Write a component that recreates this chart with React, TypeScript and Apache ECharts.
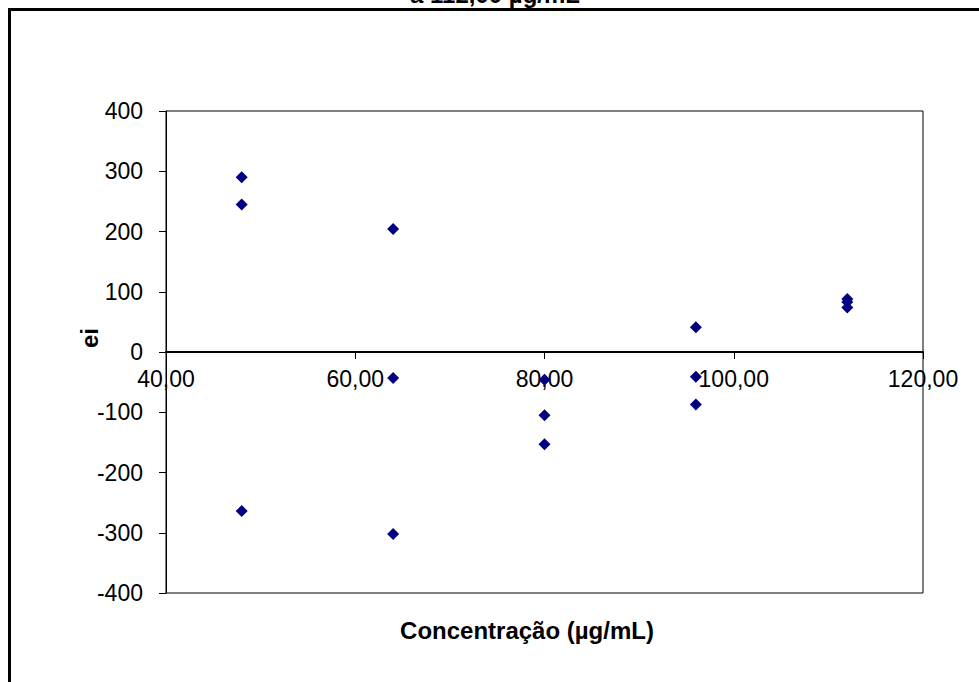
import React, { useEffect, useRef } from "react";
import * as echarts from "echarts";

const concentrations = [48, 48, 48, 64, 64, 64, 80, 80, 80, 96, 96, 96, 112, 112, 112];
const residuals = [290, 245, -264, 204, -43, -302, -46, -105, -153, 41, -41, -87, 88, 83, 74];

const titleText = "a 112,00 µg/mL";
const xTitle = "Concentração (µg/mL)";
const yTitle = "ei";

const FONT = "'Liberation Sans', Arial, sans-serif";

export default function App() {
  const ref = useRef<HTMLDivElement>(null);
  useEffect(() => {
    if (!ref.current) return;
    const chart = echarts.init(ref.current, null, { renderer: "svg" });
    const data = concentrations.map((c, i) => [c, residuals[i]]);
    chart.setOption({
      animation: false,
      backgroundColor: "#ffffff",
      textStyle: { fontFamily: FONT },
      grid: {
        left: 166,
        top: 111,
        right: 56,
        bottom: 89,
        show: true,
        borderColor: "#000",
        borderWidth: 1,
        backgroundColor: "transparent",
      },
      xAxis: {
        type: "value",
        position: "bottom",
        offset: -241,
        min: 40,
        max: 120,
        interval: 20,
        axisLine: { onZero: false, lineStyle: { color: "#000", width: 2 } },
        axisTick: { show: true, length: 7, lineStyle: { color: "#000", width: 1 } },
        axisLabel: {
          color: "#000",
          fontSize: 23,
          fontFamily: FONT,
          margin: 15,
          formatter: (v: number) => v.toFixed(2).replace(".", ","),
        },
        splitLine: { show: false },
      },
      yAxis: {
        type: "value",
        min: -400,
        max: 400,
        interval: 100,
        axisLine: { show: true, onZero: false, lineStyle: { color: "#000", width: 1 } },
        axisTick: { show: true, length: 7, lineStyle: { color: "#000", width: 1 } },
        axisLabel: { color: "#000", fontSize: 23, fontFamily: FONT, margin: 23 },
        splitLine: { show: false },
      },
      series: [
        {
          type: "scatter",
          data,
          symbol: "diamond",
          symbolSize: 12,
          itemStyle: { color: "#000080", opacity: 1 },
        },
      ],
      graphic: [
        {
          type: "rect",
          shape: { x: 9.5, y: 9.5, width: 1200, height: 900 },
          style: { fill: "none", stroke: "#000", lineWidth: 3 },
          silent: true,
        },
        {
          type: "text",
          x: 495,
          y: -6,
          style: {
            text: titleText,
            font: `bold 24px ${FONT}`,
            fill: "#000",
            textAlign: "center",
            textVerticalAlign: "middle",
          },
        },
        {
          type: "text",
          x: 527,
          y: 630,
          style: {
            text: xTitle,
            font: `bold 24px ${FONT}`,
            fill: "#000",
            textAlign: "center",
            textVerticalAlign: "middle",
          },
        },
        {
          type: "text",
          x: 89,
          y: 338,
          rotation: Math.PI / 2,
          style: {
            text: yTitle,
            font: `bold 24px ${FONT}`,
            fill: "#000",
            textAlign: "center",
            textVerticalAlign: "middle",
          },
        },
      ],
    });
    return () => chart.dispose();
  }, []);
  return (
    <div
      ref={ref}
      style={{ position: "fixed", left: 0, top: 0, width: 979, height: 682, background: "#fff" }}
    />
  );
}
